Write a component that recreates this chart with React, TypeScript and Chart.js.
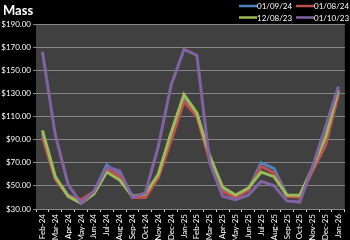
import React, { useEffect, useRef } from "react";
import { Chart, registerables } from "chart.js";
Chart.register(...registerables);

const labels = ["Feb-24","Mar-24","Apr-24","May-24","Jun-24","Jul-24","Aug-24","Sep-24","Oct-24","Nov-24","Dec-24","Jan-25","Feb-25","Mar-25","Apr-25","May-25","Jun-25","Jul-25","Aug-25","Sep-25","Oct-25","Nov-25","Dec-25","Jan-26"];
const s0109 = [95, 57, 42, 37, 45, 68, 60, 41, 41, 59, 92, 126, 112, 74, 47, 41, 47, 70, 65, 42, 41, 64, 88, 131];
const s0108 = [92, 56, 41, 38, 45, 65, 58, 40, 40, 57, 89, 123, 110, 72, 45, 40, 46, 67, 61, 41, 40, 63, 85, 129];
const s1208 = [98, 58, 41, 35, 43, 62, 55, 41, 43, 60, 96, 129, 113, 76, 49, 42, 48, 62, 58, 42, 42, 66, 92, 133];
const s0110 = [166, 94, 51, 35, 45, 66, 63, 40, 44, 84, 137, 168, 163, 70, 41, 38, 42, 54, 50, 37, 36, 67, 101, 136];
const seriesNames = ["01/09/24", "01/08/24", "12/08/23", "01/10/23"];
const seriesColors = ["#4F81BD", "#C0504D", "#9BBB59", "#8064A2"];
const title = "Mass";

const FONT = "Lato, 'Open Sans', sans-serif";

const bgPlugin = {
  id: "bg",
  beforeDraw(chart: any) {
    const { ctx, chartArea: a } = chart;
    ctx.save();
    ctx.fillStyle = "#000";
    ctx.fillRect(0, 0, chart.width, chart.height);
    ctx.fillStyle = "#404040";
    ctx.fillRect(a.left, a.top, a.right - a.left, a.bottom - a.top);
    ctx.restore();
  },
  afterDraw(chart: any) {
    const { ctx } = chart;
    ctx.save();
    ctx.fillStyle = "#fff";
    ctx.font = "bold 13px " + FONT;
    ctx.textBaseline = "alphabetic";
    ctx.fillText(title, 3, 15);
    ctx.font = "8px " + FONT;
    ctx.textBaseline = "middle";
    chart.data.datasets.forEach((ds: any, i: number) => {
      const col = i % 2;
      const row = Math.floor(i / 2);
      const x = 239 + col * 57;
      const y = 6 + row * 11.5;
      ctx.strokeStyle = ds.borderColor;
      ctx.lineWidth = 2.5;
      ctx.beginPath();
      ctx.moveTo(x, y);
      ctx.lineTo(x + 18, y);
      ctx.stroke();
      ctx.fillStyle = "#fff";
      ctx.fillText(ds.label, x + 18, y + 0.5);
    });
    ctx.restore();
  },
};

export default function App() {
  const ref = useRef<HTMLCanvasElement>(null);
  useEffect(() => {
    document.body.style.margin = "0";
    document.body.style.background = "#000";
    const all = [s0109, s0108, s1208, s0110];
    const chart = new Chart(ref.current!, {
      type: "line",
      data: {
        labels,
        datasets: all.map((d, i) => ({
          label: seriesNames[i],
          data: d,
          borderColor: seriesColors[i],
          backgroundColor: seriesColors[i],
          borderWidth: 3,
          pointRadius: 0,
          tension: 0,
          order: 4 - i,
        })),
      },
      options: {
        animation: false,
        responsive: false,
        devicePixelRatio: 1,
        layout: { padding: { top: 24, right: 0, left: 0, bottom: 0 } },
        plugins: { legend: { display: false }, title: { display: false }, tooltip: { enabled: false } },
        scales: {
          x: {
            offset: true,
            grid: { display: true, drawOnChartArea: false, offset: true, tickLength: 3, color: "#d9d9d9" },
            border: { display: false },
            ticks: { color: "#fff", font: { size: 8, family: FONT }, maxRotation: 90, minRotation: 90, autoSkip: false, padding: 2 },
            afterFit: (s: any) => { s.height = 31; },
          },
          y: {
            min: 30,
            max: 190,
            ticks: { stepSize: 20, callback: (v: any) => "$" + Number(v).toFixed(2), color: "#fff", font: { size: 8, family: FONT }, padding: 2 },
            grid: { color: "#868686", tickLength: 3 },
            border: { display: false },
            afterFit: (s: any) => { s.width = 36; },
          },
        },
      },
      plugins: [bgPlugin],
    } as any);
    return () => chart.destroy();
  }, []);
  return <canvas ref={ref} width={350} height={240} style={{ display: "block" }} />;
}
